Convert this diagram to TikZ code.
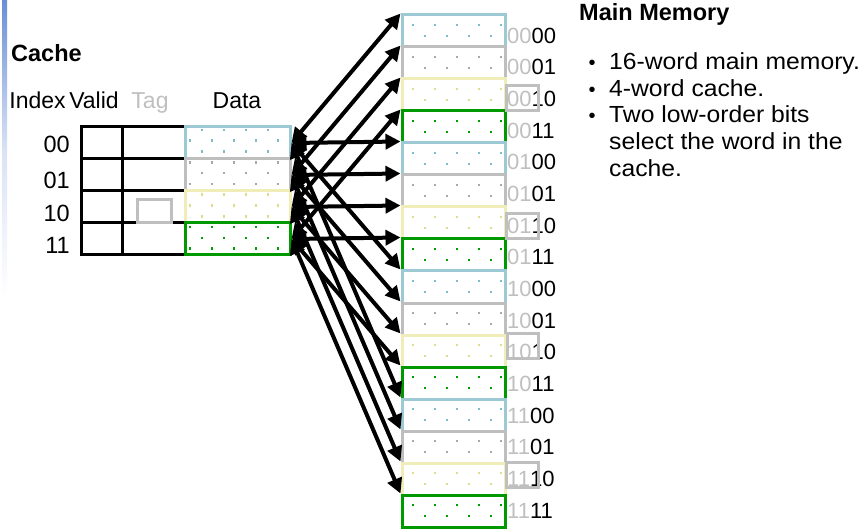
\documentclass[tikz,border=0pt]{standalone}
\usepackage{fontspec}
\setmainfont{Liberation Sans}
\newfontfamily\widefont[FakeStretch=1.06]{Liberation Sans}
\usetikzlibrary{arrows.meta}
\definecolor{barblue}{HTML}{6A8ED6}
\definecolor{bc0}{HTML}{9DC9D4}
\definecolor{bc1}{HTML}{BEBEBE}
\definecolor{bc2}{HTML}{F0EDB8}
\definecolor{bc3}{HTML}{009A00}
\definecolor{dc0}{HTML}{7FBCCB}
\definecolor{dc1}{HTML}{A8A8A8}
\definecolor{dc2}{HTML}{E0DA8C}
\definecolor{dc3}{HTML}{00A000}
\definecolor{tgray}{HTML}{BFBFBF}
\tikzset{
  cachecell/.style={minimum width=105pt, minimum height=32pt, inner sep=0pt, line width=3pt},
  memblock/.style={minimum width=103pt, minimum height=32pt, inner sep=0pt, line width=3pt},
  maparrow/.style={line width=4pt, {Triangle[length=15pt,width=15pt]}-{Triangle[length=15pt,width=15pt]}},
  hdr/.style={inner sep=0pt, font=\fontsize{23}{27}\selectfont},
  idx/.style={inner sep=0pt, anchor=east, font=\fontsize{23.5}{27}\selectfont},
  memlbl/.style={inner sep=0pt, anchor=west, font=\fontsize{22}{26}\selectfont},
  titl/.style={inner sep=0pt, anchor=base west, font=\bfseries\fontsize{23.5}{27}\selectfont},
  bul/.style={inner sep=0pt, anchor=base west, font=\widefont\fontsize{23.3}{27}\selectfont},
  tagbox/.style={draw=tgray, line width=3pt}
}
\begin{document}
\begin{tikzpicture}[x=1pt,y=-1pt]
\useasboundingbox (0,0) rectangle (867,529);
% left decorative bar
\shade[top color=barblue, bottom color=white, middle color=barblue!25] (2,0) rectangle (7,300);

% titles
\node[titl] (cachetitle) at (11,62) {Cache};
\node[titl] (memtitle) at (579,21) {Main Memory};

% headers
\node[hdr, anchor=base] (hindex) at (37.5,109) {Index};
\node[hdr, anchor=base] (hvalid) at (94,109) {Valid};
\node[hdr, anchor=base, text=tgray] (htag) at (150,109) {Tag};
\node[hdr, anchor=base] (hdata) at (237,109) {Data};

% index labels
\node[idx] (i0) at (70,144.5) {00};
\node[idx] (i1) at (70,180.5) {01};
\node[idx] (i2) at (70,213) {10};
\node[idx] (i3) at (70,245) {11};

% cache dots
\foreach \j in {0,...,11}{
  \pgfmathtruncatemacro\rr{\j/3}
  \pgfmathsetmacro\yy{130+10.8*\j}
  \ifodd\j
    \foreach \xx in {190,212,234,256,278} \fill[dc\rr] (\xx-1.3,\yy-1.3) rectangle ++(2.6,2.6);
  \else
    \foreach \xx in {202,224,246,268} \fill[dc\rr] (\xx-1.3,\yy-1.3) rectangle ++(2.6,2.6);
  \fi
}

% memory dots
\foreach \i in {0,...,15}{
  \pgfmathtruncatemacro\cc{mod(\i,4)}
  \pgfmathsetmacro\mt{15+32*\i}
  \foreach \xx in {413,435,457,479,501} \fill[dc\cc] (\xx-1.3,\mt+10-1.3) rectangle ++(2.6,2.6);
  \foreach \xx in {425,447,469,491} \fill[dc\cc] (\xx-1.3,\mt+21-1.3) rectangle ++(2.6,2.6);
}

% cache table grid
\draw[line width=3pt] (81,127) rectangle (290,255);
\foreach \xx in {122,185} \draw[line width=3pt] (\xx,127) -- (\xx,255);
\foreach \yy in {159,191,223} \draw[line width=3pt] (81,\yy) -- (290,\yy);

% tag box in cache
\draw[tagbox] (137,200) rectangle (171,223);

% cache data cells
\foreach \r in {0,...,3}
  \node[cachecell, draw=bc\r] (c\r) at (237.5,143+32*\r) {};

% memory blocks
\foreach \i in {0,...,15}{
  \pgfmathtruncatemacro\cc{mod(\i,4)}
  \node[memblock, draw=bc\cc] (m\i) at (453.5,31+32*\i) {};
}

% memory labels
\foreach \i/\pre/\suf in {0/00/00,1/00/01,2/00/10,3/00/11,4/01/00,5/01/01,6/01/10,7/01/11,
                          8/10/00,9/10/01,10/10/10,11/10/11,12/11/00,13/11/01,14/11/10,15/11/11}
  \node[memlbl] (l\i) at (507,35.5+31.667*\i) {\textcolor{tgray}{\pre}\suf};

% tag boxes on memory labels
\draw[tagbox] (506,86) rectangle (538,111);
\draw[tagbox] (506,214) rectangle (538,239);
\draw[tagbox] (507,333) rectangle (538,358);
\draw[tagbox] (506,462) rectangle (538,487);

% mapping arrows
\foreach \i in {0,...,15}{
  \pgfmathtruncatemacro\rr{mod(\i,4)}
  \draw[maparrow] (c\rr.east) -- (m\i.north west);
}

% bullets
\foreach \yy/\txt/\hasb in {70/16-word main memory./1, 97/4-word cache./1, 123/Two low-order bits/1,
                            150/select the word in the/0, 177/cache./0}{
  \node[bul] (b\yy) at (609,\yy) {\txt};
  \ifnum\hasb=1 \node[bul, anchor=base, font=\fontsize{20}{24}\selectfont] (d\yy) at (592,\yy) {\textbullet}; \fi
}
\end{tikzpicture}
\end{document}
